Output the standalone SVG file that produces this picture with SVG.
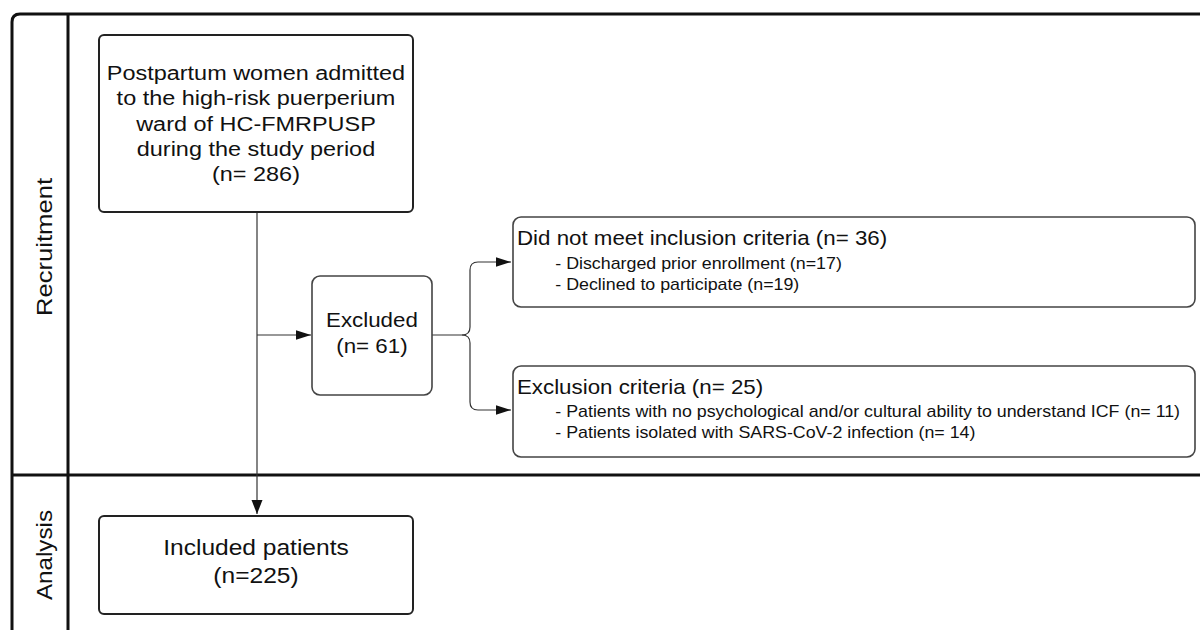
<svg xmlns="http://www.w3.org/2000/svg" width="1200" height="630" viewBox="0 0 1200 630">
<style>
.frame{fill:none;stroke:#111;stroke-width:3}
.box{fill:#fff;stroke:#222;stroke-width:2}
.box2{fill:#fff;stroke:#444;stroke-width:1.6}
.conn{fill:none;stroke:#333;stroke-width:1.2}
text{font-family:"Liberation Sans",Arial,sans-serif;fill:#111}
.big{font-size:21px;text-anchor:middle}
.mid{font-size:20px;text-anchor:middle}
.inc{font-size:22px;text-anchor:middle}
.hd{font-size:20px}
.it{font-size:16px}
.lane{font-size:22px;text-anchor:middle}
</style>
<defs>
<marker id="ah" viewBox="0 0 14 12" refX="14" refY="6" markerWidth="14" markerHeight="12" markerUnits="userSpaceOnUse" orient="auto">
<path d="M0,0.5 L14,6 L0,11.5 z" fill="#111"/>
</marker>
<marker id="ah2" viewBox="0 0 15 10" refX="15" refY="5" markerWidth="15" markerHeight="10" markerUnits="userSpaceOnUse" orient="auto">
<path d="M0,0.3 L15,5 L0,9.7 z" fill="#111"/>
</marker>
</defs>
<rect width="1200" height="630" fill="#fff"/>
<g id="lanes">
<path class="frame" d="M12,630 V22 Q12,14 20,14 H1200"/>
<line class="frame" x1="68" y1="14" x2="68" y2="630"/>
<line class="frame" x1="12" y1="475" x2="1200" y2="475"/>
<text class="lane" transform="translate(52,247) rotate(-90)" textLength="138" lengthAdjust="spacingAndGlyphs">Recruitment</text>
<text class="lane" transform="translate(52,555) rotate(-90)" textLength="90" lengthAdjust="spacingAndGlyphs">Analysis</text>
</g>
<g id="connectors">
<line class="conn" x1="257" y1="212" x2="257" y2="514" marker-end="url(#ah)"/>
<line class="conn" x1="257" y1="335" x2="311" y2="335" stroke="#777" marker-end="url(#ah2)"/>
<path class="conn" d="M432,335 H462 Q470,335 470,327 V270 Q470,262 478,262 H511" marker-end="url(#ah2)"/>
<path class="conn" d="M462,335 Q470,335 470,343 V402 Q470,410 478,410 H511" marker-end="url(#ah2)"/>
</g>
<g id="n-postpartum">
<rect class="box" x="99" y="35" width="314" height="177" rx="5"/>
<g transform="matrix(1.116,0,0,1,-29.7,0)">
<text class="big" x="256" y="80">Postpartum women admitted</text>
<text class="big" x="256" y="105">to the high-risk puerperium</text>
<text class="big" x="256" y="131">ward of HC-FMRPUSP</text>
<text class="big" x="256" y="156">during the study period</text>
<text class="big" x="256" y="181">(n= 286)</text>
</g>
</g>
<g id="n-excluded">
<rect class="box2" x="312" y="276" width="120" height="119" rx="8"/>
<g transform="matrix(1.116,0,0,1,-43.2,0)">
<text class="mid" x="372" y="327">Excluded</text>
<text class="mid" x="372" y="353">(n= 61)</text>
</g>
</g>
<g id="n-inclusion">
<rect class="box2" x="513" y="217" width="682" height="90" rx="8"/>
<g transform="matrix(1.116,0,0,1,-60,0)">
<text class="hd" x="517" y="245">Did not meet inclusion criteria (n= 36)</text>
</g>
<g transform="matrix(1.114,0,0,1,-63,0)">
<text class="it" x="555" y="269">- Discharged prior enrollment (n=17)</text>
<text class="it" x="555" y="290">- Declined to participate (n=19)</text>
</g>
</g>
<g id="n-exclusion">
<rect class="box2" x="513" y="366" width="682" height="91" rx="8"/>
<g transform="matrix(1.116,0,0,1,-60,0)">
<text class="hd" x="517" y="394">Exclusion criteria (n= 25)</text>
</g>
<g transform="matrix(1.114,0,0,1,-63,0)">
<text class="it" x="555" y="417">- Patients with no psychological and/or cultural ability to understand ICF (n= 11)</text>
<text class="it" x="555" y="438">- Patients isolated with SARS-CoV-2 infection (n= 14)</text>
</g>
</g>
<g id="n-included">
<rect class="box" x="99" y="516" width="314" height="98" rx="5"/>
<g transform="matrix(1.116,0,0,1,-29.7,0)">
<text class="inc" x="256" y="555">Included patients</text>
<text class="inc" x="256" y="583">(n=225)</text>
</g>
</g>
</svg>
